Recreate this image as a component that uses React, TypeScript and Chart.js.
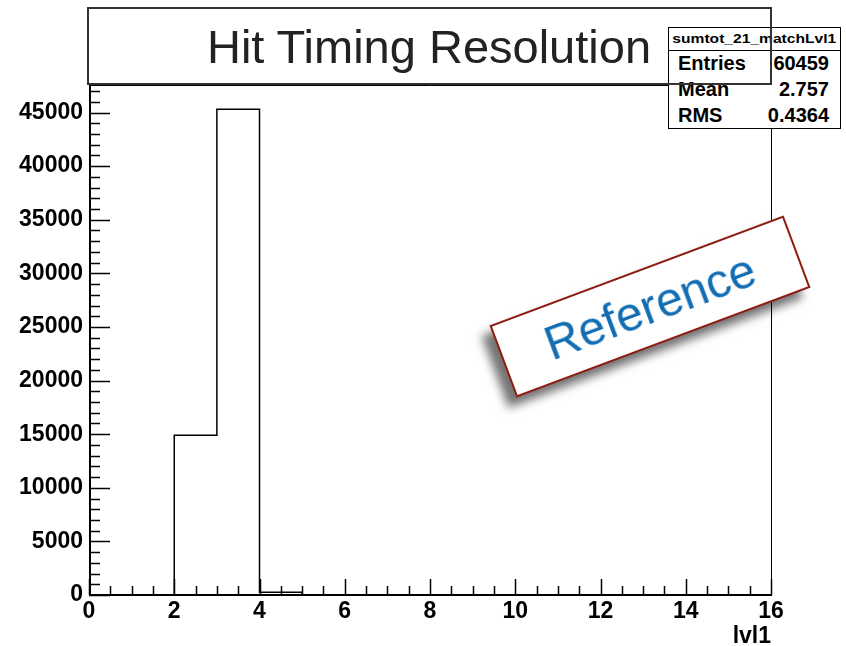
import React, { useEffect, useRef } from "react";
import { Chart, registerables } from "chart.js";

Chart.register(...registerables);

// ---- data ----
const binEdges = [0, 1, 2, 3, 4, 5, 6, 7, 8, 9, 10, 11, 12, 13, 14, 15, 16];
const binCounts = [0, 0, 14900, 45300, 259, 0, 0, 0, 0, 0, 0, 0, 0, 0, 0, 0];
const xTickValues = [0, 2, 4, 6, 8, 10, 12, 14, 16];
const yTickValues = [0, 5000, 10000, 15000, 20000, 25000, 30000, 35000, 40000, 45000];
const xMinorStep = 0.5;
const yMinorStep = 1000;
const yMax = 47565;
const titleText = "Hit Timing Resolution";
const statsName = "sumtot_21_matchLvl1";
const statsLabels = ["Entries", "Mean", "RMS"];
const statsValues = ["60459", "2.757", "0.4364"];
const xAxisTitle = "lvl1";
const stampText = "Reference";

const FONT = "'Liberation Sans', Arial, Helvetica, sans-serif";

const framePlugin = {
  id: "rootFrame",
  afterDraw(chart: any) {
    const { ctx, chartArea, scales } = chart;
    const { left, right, top, bottom } = chartArea;
    const x = scales.x;
    const y = scales.y;
    ctx.save();
    ctx.strokeStyle = "#000";
    ctx.lineWidth = 1;
    ctx.beginPath();
    ctx.moveTo(left, top + 0.5);
    ctx.lineTo(right + 0.5, top + 0.5);
    ctx.lineTo(right + 0.5, bottom);
    ctx.stroke();
    ctx.lineWidth = 2;
    ctx.beginPath();
    ctx.moveTo(left + 1, top);
    ctx.lineTo(left + 1, bottom + 1);
    ctx.moveTo(left, bottom);
    ctx.lineTo(right + 1, bottom);
    ctx.stroke();
    ctx.lineWidth = 1.5;
    ctx.beginPath();
    for (let v = 0; v <= yMax; v += yMinorStep) {
      const py = Math.round(y.getPixelForValue(v)) + 0.5;
      const len = v % 5000 === 0 ? 21 : 11;
      ctx.moveTo(left, py);
      ctx.lineTo(left + len, py);
    }
    for (let v = binEdges[0]; v <= binEdges[binEdges.length - 1]; v += xMinorStep) {
      const px = Math.round(x.getPixelForValue(v)) + 0.5;
      const len = v % 2 === 0 ? 16 : 9;
      ctx.moveTo(px, bottom);
      ctx.lineTo(px, bottom - len);
    }
    ctx.stroke();
    ctx.restore();
  },
};

export default function App() {
  const canvasRef = useRef<HTMLCanvasElement | null>(null);

  useEffect(() => {
    if (!canvasRef.current) return;
    const points = binEdges.map((e, i) => ({
      x: e,
      y: i === 0 ? binCounts[0] : binCounts[i - 1],
    }));
    const chart = new Chart(canvasRef.current, {
      type: "line",
      data: {
        datasets: [
          {
            data: points,
            borderColor: "#000",
            borderWidth: 1.5,
            pointRadius: 0,
            stepped: "after",
            fill: false,
          },
        ],
      },
      options: {
        animation: false,
        responsive: true,
        maintainAspectRatio: false,
        layout: { padding: { left: 0, top: 85, right: 75, bottom: 0 } },
        plugins: { legend: { display: false }, tooltip: { enabled: false }, title: { display: false } },
        scales: {
          x: {
            type: "linear",
            min: binEdges[0],
            max: binEdges[binEdges.length - 1],
            grid: { display: false, drawTicks: false },
            border: { display: false },
            afterBuildTicks: (s: any) => {
              s.ticks = xTickValues.map((v) => ({ value: v }));
            },
            afterFit: (s: any) => {
              s.height = 51;
            },
            ticks: {
              autoSkip: false,
              maxRotation: 0,
              padding: 3,
              color: "#000",
              font: { family: FONT, size: 23, weight: "bold" },
              callback: (v: any) => String(v),
            },
            title: {
              display: true,
              text: xAxisTitle,
              align: "end",
              color: "#000",
              padding: { top: 0, bottom: -4 },
              font: { family: FONT, size: 23, weight: "bold" },
            },
          },
          y: {
            type: "linear",
            min: 0,
            max: yMax,
            grid: { display: false, drawTicks: false },
            border: { display: false },
            afterBuildTicks: (s: any) => {
              s.ticks = yTickValues.map((v) => ({ value: v }));
            },
            afterFit: (s: any) => {
              s.width = 89;
            },
            ticks: {
              autoSkip: false,
              padding: 6,
              color: "#000",
              font: { family: FONT, size: 23, weight: "bold" },
              callback: (v: any) => String(v),
            },
          },
        },
      },
      plugins: [framePlugin],
    });
    return () => chart.destroy();
  }, []);

  return (
    <div style={{ position: "fixed", left: 0, top: 0, width: 846, height: 646, background: "#fff", overflow: "hidden" }}>
      <div style={{ position: "absolute", left: 0, top: 0, width: 846, height: 646 }}>
        <canvas ref={canvasRef} />
      </div>
      <div
        style={{
          position: "absolute",
          left: 668,
          top: 27,
          width: 173,
          height: 102,
          boxSizing: "border-box",
          border: "1.5px solid #000",
          background: "#fff",
          fontFamily: FONT,
          fontWeight: "bold",
          color: "#000",
        }}
      >
        <div
          style={{
            height: 22,
            borderBottom: "1px solid #000",
            fontSize: 13,
            lineHeight: "22px",
            textAlign: "center",
            whiteSpace: "nowrap",
          }}
        >
          <span style={{ display: "inline-block", transform: "scaleX(1.2)" }}>{statsName}</span>
        </div>
        {statsLabels.map((lab, i) => (
          <div
            key={lab}
            style={{
              position: "absolute",
              left: 9,
              right: 11,
              top: 22 + i * 26,
              height: 26,
              lineHeight: "26px",
              fontSize: 20,
              display: "flex",
              justifyContent: "space-between",
            }}
          >
            <span>{lab}</span>
            <span>{statsValues[i]}</span>
          </div>
        ))}
      </div>
      <div
        style={{
          position: "absolute",
          left: 87,
          top: 7,
          width: 685,
          height: 78,
          boxSizing: "border-box",
          border: "2px solid #333",
          pointerEvents: "none",
        }}
      />
      <div
        style={{
          position: "absolute",
          left: 88,
          top: 8,
          width: 682,
          height: 76,
          lineHeight: "76px",
          textAlign: "center",
          fontFamily: FONT,
          fontSize: 47,
          color: "#222",
          whiteSpace: "nowrap",
        }}
      >
        <span style={{ position: "relative", top: 1 }}>{titleText}</span>
      </div>
      <div
        style={{
          position: "absolute",
          left: 649.5 - 157,
          top: 306 - 38.5,
          width: 314,
          height: 77,
          boxSizing: "border-box",
          border: "2px solid #8e1b10",
          background: "#fff",
          transform: "rotate(-20.5deg)",
          boxShadow: "-11px 7px 9px rgba(0,0,0,0.55)",
          display: "flex",
          alignItems: "center",
          justifyContent: "center",
          fontFamily: FONT,
          fontSize: 48,
          color: "#136db3",
        }}
      >
        {stampText}
      </div>
    </div>
  );
}
